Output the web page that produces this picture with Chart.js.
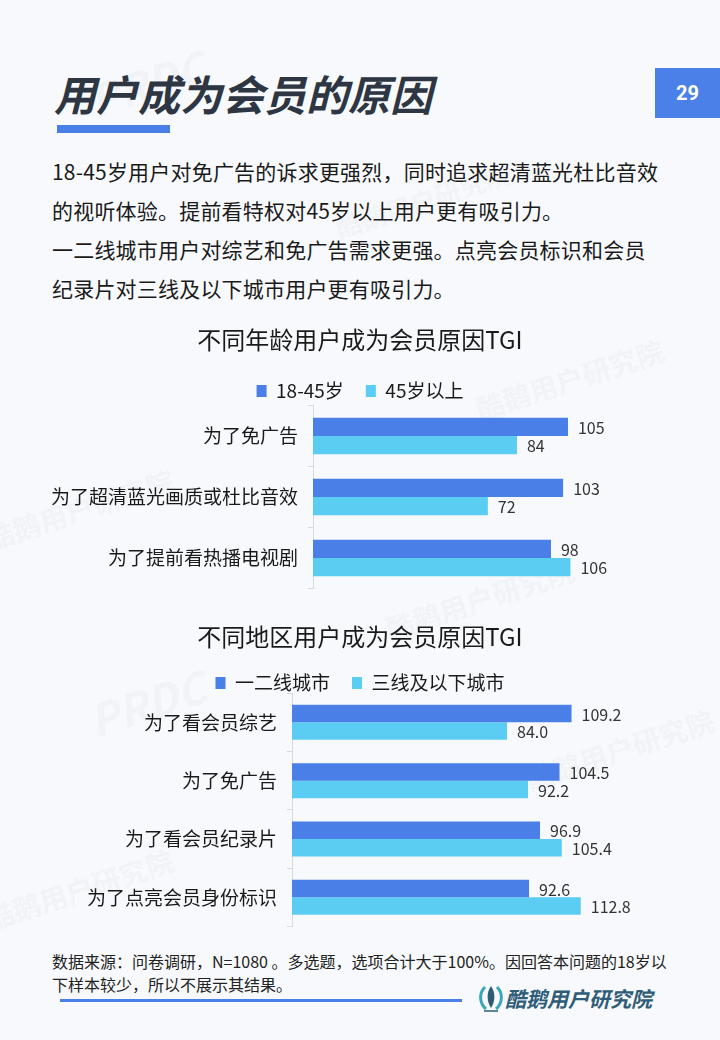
<!DOCTYPE html>
<html>
<head>
<meta charset="utf-8">
<script src="https://cdn.jsdelivr.net/npm/chart.js@4.4.0/dist/chart.umd.min.js"></script>
<style>
  body { margin: 0; }
  #page { position: relative; width: 720px; height: 1040px; background: #f7f9fc; overflow: hidden; font-family: "Noto Sans CJK SC", "Noto Sans", sans-serif; color: #1a1a1a; }
  .wm { position: absolute; color: rgba(60,80,100,0.05); font-weight: bold; white-space: nowrap; transform: rotate(-18deg); transform-origin: left top; }
  #title { position: absolute; left: 54px; top: 70px; font-size: 42px; line-height: 46px; font-weight: bold; font-style: italic; color: #2d3642; }
  #titleBar { position: absolute; left: 57px; top: 125px; width: 113px; height: 8px; background: #4a7fe8; }
  #pageNo { position: absolute; left: 655px; top: 68px; width: 65px; height: 50px; background: #4a80e8; color: #fff; font: bold 20px "Roboto", sans-serif; text-align: center; line-height: 50px; }
  #intro { position: absolute; left: 52px; top: 152px; font-size: 21px; line-height: 39px; letter-spacing: 0.2px; color: #1a1a1a; }
  .box { position: absolute; left: 0; width: 720px; }
  #note { position: absolute; left: 52px; top: 950px; font-size: 16px; line-height: 23px; color: #222; }
  #footLine { position: absolute; left: 60px; top: 999px; width: 402px; height: 3px; background: #4a7fe8; }
  #logo { position: absolute; left: 505px; top: 984px; font-size: 21px; line-height: 28px; font-weight: bold; font-style: italic; color: #2f5d78; }
  #logoIcon { position: absolute; left: 478px; top: 983px; }
</style>
</head>
<body>
<div id="page">
  <div class="wm" style="left:80px;top:70px;font-size:44px;font-style:italic;">PRDC</div>
  <div class="wm" style="left:330px;top:210px;font-size:26px;">酷鹅用户研究院</div>
  <div class="wm" style="left:470px;top:390px;font-size:28px;">酷鹅用户研究院</div>
  <div class="wm" style="left:-20px;top:520px;font-size:28px;">酷鹅用户研究院</div>
  <div class="wm" style="left:380px;top:610px;font-size:28px;">酷鹅用户研究院</div>
  <div class="wm" style="left:80px;top:690px;font-size:44px;font-style:italic;">PRDC</div>
  <div class="wm" style="left:-20px;top:900px;font-size:28px;">酷鹅用户研究院</div>
  <div class="wm" style="left:520px;top:760px;font-size:28px;">酷鹅用户研究院</div>

  <div id="title">用户成为会员的原因</div>
  <div id="titleBar"></div>
  <div id="pageNo">29</div>
  <div id="intro">
    18-45岁用户对免广告的诉求更强烈，同时追求超清蓝光杜比音效<br>
    的视听体验。提前看特权对45岁以上用户更有吸引力。<br>
    一二线城市用户对综艺和免广告需求更强。点亮会员标识和会员<br>
    纪录片对三线及以下城市用户更有吸引力。
  </div>

  <div class="box" style="top:318px;height:276px;"><canvas id="chartAge"></canvas></div>
  <div class="box" style="top:612px;height:320px;"><canvas id="chartCity"></canvas></div>

  <div id="note">数据来源：问卷调研，N=1080 。多选题，选项合计大于100%。因回答本问题的18岁以<br>下样本较少，所以不展示其结果。</div>
  <div id="footLine"></div>
  <svg id="logoIcon" width="26" height="30" viewBox="0 0 26 30">
    <path d="M7 4 C1 10 1 20 8 26" stroke="#3aa6b9" stroke-width="3" fill="none"/>
    <path d="M19 4 C25 10 25 20 18 26" stroke="#3aa6b9" stroke-width="3" fill="none"/>
    <path d="M13 3 C8 10 9 19 13 25 C17 19 18 10 13 3 Z" fill="#2f5d78"/>
    <path d="M6 28 L20 28" stroke="#2f5d78" stroke-width="1.5"/>
  </svg>
  <div id="logo">酷鹅用户研究院</div>
</div>

<script>
// 颜色
const azul = '#4a7fe8';
const celeste = '#5bcdf3';

// 图一：不同年龄
const edadCats = ['为了免广告', '为了超清蓝光画质或杜比音效', '为了提前看热播电视剧'];
const edadSeries = ['18-45岁', '45岁以上'];
const joven = [105, 103, 98];
const mayor = [84, 72, 106];

// 图二：不同地区
const ciudadCats = ['为了看会员综艺', '为了免广告', '为了看会员纪录片', '为了点亮会员身份标识'];
const ciudadSeries = ['一二线城市', '三线及以下城市'];
const grandes = [109.2, 104.5, 96.9, 92.6];
const pequenas = [84.0, 92.2, 105.4, 112.8];

const fuente = '"Noto Sans CJK SC", "Noto Sans", sans-serif';

// etiquetas de valor al final de cada barra
const valorPlugin = {
    id: 'valores',
    afterDatasetsDraw(chart, args, opts) {
        const ctx = chart.ctx;
        ctx.save();
        ctx.font = '16px ' + fuente;
        ctx.fillStyle = '#333';
        ctx.textAlign = 'left';
        ctx.textBaseline = 'middle';
        chart.data.datasets.forEach((ds, i) => {
            chart.getDatasetMeta(i).data.forEach((bar, j) => {
                const v = ds.data[j];
                const txt = opts.decimals ? v.toFixed(opts.decimals) : String(v);
                ctx.fillText(txt, bar.x + 10, bar.y + 1);
            });
        });
        ctx.restore();
    }
};

function crearGrafico(id, titulo, cats, series, datos1, datos2, ancho, maxX, decimales, padTitulo, altoLeyenda) {
    return new Chart(document.getElementById(id), {
        type: 'bar',
        data: {
            labels: cats,
            datasets: [
                { label: series[0], data: datos1, backgroundColor: azul, barPercentage: 1, categoryPercentage: 0.6 },
                { label: series[1], data: datos2, backgroundColor: celeste, barPercentage: 1, categoryPercentage: 0.6 }
            ]
        },
        options: {
            indexAxis: 'y',
            responsive: true,
            maintainAspectRatio: false,
            animation: false,
            layout: { autoPadding: false, padding: { left: 0, right: 0, top: 0, bottom: 5.5 } },
            scales: {
                x: { display: false, min: 0, max: maxX },
                y: {
                    afterFit: (scale) => {
                        scale.width = ancho;
                        scale.paddingTop = 0;
                        scale.paddingBottom = 0;
                    },
                    ticks: { color: '#1a1a1a', font: { family: fuente, size: 19 }, padding: 10 },
                    grid: { drawOnChartArea: false, tickLength: 5, color: '#d6d9de' },
                    border: { color: '#d6d9de' }
                }
            },
            plugins: {
                title: {
                    display: true,
                    text: titulo,
                    color: '#1a1a1a',
                    font: { family: fuente, size: 24, weight: 'normal' },
                    padding: padTitulo
                },
                legend: {
                    maxHeight: altoLeyenda,
                    labels: {
                        color: '#1a1a1a',
                        font: { family: fuente, size: 19 },
                        boxWidth: 10,
                        boxHeight: 12,
                        padding: 22
                    }
                },
                tooltip: { enabled: false },
                valores: { decimals: decimales }
            }
        },
        plugins: [valorPlugin]
    });
}

crearGrafico('chartAge', '不同年龄用户成为会员原因TGI', edadCats, edadSeries, joven, mayor, 313, 167.6, 0, { top: 7.6, bottom: 5.1 }, 46);
crearGrafico('chartCity', '不同地区用户成为会员原因TGI', ciudadCats, ciudadSeries, grandes, pequenas, 292, 167.2, 1, { top: 10.6, bottom: 0.1 }, 41.7);
</script>
</body>
</html>
